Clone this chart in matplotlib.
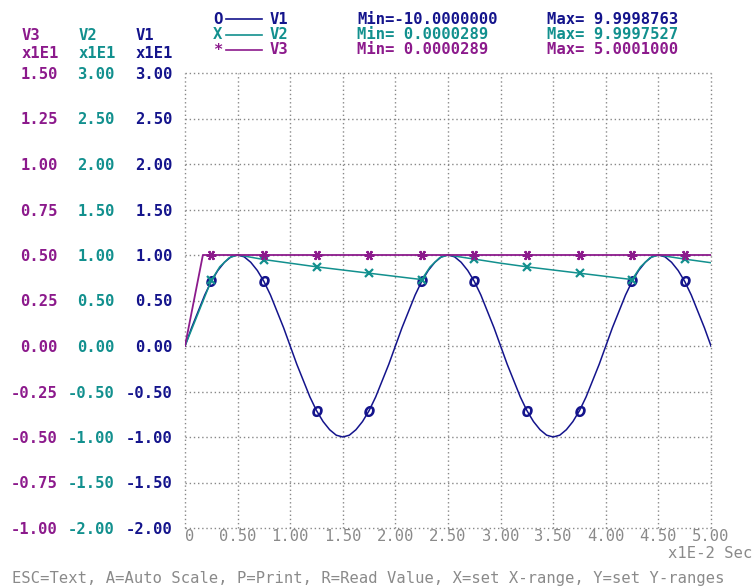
import numpy as np
import matplotlib.pyplot as plt
from matplotlib.lines import Line2D

# colours of the three traces
NAVY = '#14148c'
TEAL = '#12908e'
PURPLE = '#8c1a8c'
GRAY = '#8a8a8a'

# time axis in units of 1E-2 s
t1 = np.arange(0, 5.001, 0.0625)
v1_half = [0, .20, .38, .56, .71, .83, .92, .98,
           1.0, .98, .92, .83, .71, .56, .38, .20]
v1_cycle = v1_half + [-v for v in v1_half]
v1 = v1_cycle * 2 + v1_half + [0]

# V2 capacitor voltage (x1E1 V)
t2 = [0, 0.25, 0.33, 0.42, 0.5, 0.58, 0.75, 1.0, 1.25, 1.5, 1.75, 2.0, 2.25,
      2.33, 2.42, 2.5, 2.58, 2.75, 3.0, 3.25, 3.5, 3.75, 4.0, 4.25,
      4.33, 4.42, 4.5, 4.58, 4.75, 5.0]
v2 = [0, .72, .87, .97, 1.0, .985, .95, .91, .87, .835, .80, .765, .73,
      .87, .97, 1.0, .985, .955, .91, .87, .835, .80, .765, .73,
      .87, .97, 1.0, .985, .955, .915]

# V3 regulated output (x1E1 V)
t3 = [0, 0.17, 0.25, 0.75, 1.25, 1.75, 2.25, 2.75, 3.25, 3.75, 4.25, 4.75, 5.0]
v3 = [0, .5, .5, .5, .5, .5, .5, .5, .5, .5, .5, .5, .5]

xticks = np.arange(0, 5.001, 0.5)
xlabels = ['0'] + ['%.2f' % x for x in xticks[1:]]
y12_ticks = np.arange(-2, 3.001, 0.5)
y3_ticks = np.arange(-1, 1.501, 0.25)

legend_rows = [('O', 'V1', 'Min=-10.0000000', 'Max= 9.9998763', NAVY),
               ('X', 'V2', 'Min= 0.0000289', 'Max= 9.9997527', TEAL),
               ('*', 'V3', 'Min= 0.0000289', 'Max= 5.0001000', PURPLE)]

W, H = 755, 586
fig = plt.figure(figsize=(W / 100, H / 100), dpi=100)
fig.patch.set_facecolor('white')
mono = {'family': 'DejaVu Sans Mono', 'size': 11.2}

L, R, T, B = 185, 711, 73, 528
ax = fig.add_axes([L / W, (H - B) / H, (R - L) / W, (B - T) / H])
ax2 = ax.twinx()
ax3 = ax.twinx()

for a in (ax, ax2, ax3):
    a.set_xlim(0, 5)
    for s in a.spines.values():
        s.set_visible(False)
    a.patch.set_visible(False)
ax.set_ylim(-2, 3)
ax2.set_ylim(-2, 3)
ax3.set_ylim(-1, 1.5)

# dotted grid, frame included
for x in xticks:
    ax.axvline(x, color='#888888', lw=1, ls=(0, (1, 2)), clip_on=False, zorder=0)
for y in y12_ticks:
    ax.axhline(y, color='#888888', lw=1, ls=(0, (1, 2)), clip_on=False, zorder=0)

# three y scales on the left
px2pt = 72 / 100
for a, ticks, col, pad in ((ax, y12_ticks, NAVY, 12),
                           (ax2, y12_ticks, TEAL, 70),
                           (ax3, y3_ticks, PURPLE, 127)):
    a.yaxis.tick_left()
    a.set_yticks(ticks)
    a.set_yticklabels(['%.2f' % v for v in ticks], fontdict=mono,
                      fontweight='bold', color=col)
    a.tick_params(axis='y', length=0, pad=pad * px2pt)

ax.set_xticks(xticks)
ax.set_xticklabels(xlabels, fontdict=mono, color=GRAY)
ax.get_xticklabels()[0].set_ha('left')
ax.tick_params(axis='x', length=0, pad=1)
for a in (ax2, ax3):
    a.tick_params(axis='x', length=0, labelbottom=False)

# traces
ax.plot(t1, v1, color=NAVY, lw=1.1, marker=r'$O$', ms=7, mew=1.0,
        markevery=(4, 8))
mk2 = [i for i, t in enumerate(t2) if (t * 4) % 2 == 1]
ax2.plot(t2, v2, color=TEAL, lw=1.1, marker='x', ms=6, mew=1.6,
         markevery=mk2)
ax3.plot(t3, v3, color=PURPLE, lw=1.3, marker=(6, 2, 90), ms=7, mew=1.6,
         markevery=list(range(2, 12)))

# axis headers
for x, name, col in ((22, 'V3', PURPLE), (79, 'V2', TEAL), (136, 'V1', NAVY)):
    fig.text(x / W, 1 - 35 / H, name, fontdict=mono, fontweight='bold',
             color=col, va='center')
    fig.text(x / W, 1 - 53 / H, 'x1E1', fontdict=mono, fontweight='bold',
             color=col, va='center')

# legend with min / max readout
for i, (mk, name, mn, mx, col) in enumerate(legend_rows):
    y = 1 - (19 + 15.5 * i) / H
    fig.text(213 / W, y, mk, fontdict=mono, fontweight='bold', color=col,
             va='center')
    fig.add_artist(Line2D([226 / W, 262 / W], [y, y], color=col, lw=1.2))
    fig.text(270 / W, y, name, fontdict=mono, fontweight='bold', color=col,
             va='center')
    fig.text(357 / W, y, mn, fontdict=mono, fontweight='bold', color=col,
             va='center')
    fig.text(547 / W, y, mx, fontdict=mono, fontweight='bold', color=col,
             va='center')

fig.text(752 / W, 1 - 553 / H, 'x1E-2 Sec', fontdict=mono, color=GRAY,
         ha='right', va='center')
fig.text(12 / W, 1 - 578 / H,
         'ESC=Text, A=Auto Scale, P=Print, R=Read Value, X=set X-range, Y=set Y-ranges',
         fontdict=mono, color=GRAY, va='center')

fig.savefig('out.png', dpi=100, facecolor='white')
